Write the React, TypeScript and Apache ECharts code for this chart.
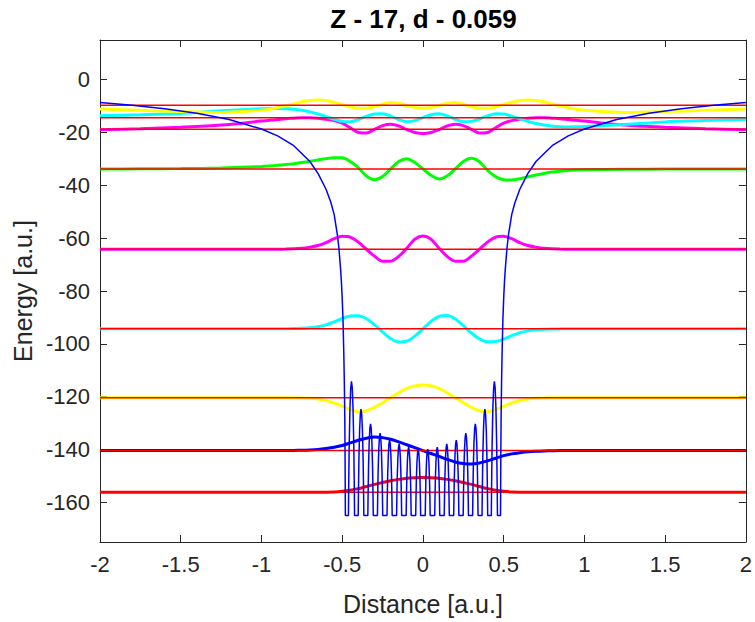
import React, { useEffect, useRef } from "react";
import * as echarts from "echarts";

// ---- axis / labels ----
const TITLE = "Z - 17, d - 0.059";
const X_LABEL = "Distance [a.u.]";
const Y_LABEL = "Energy [a.u.]";
const Y_TICKS = [-160, -140, -120, -100, -80, -60, -40, -20, 0];

// ---- energy levels (red lines) ----
const LEVELS = [-156.2, -140.4, -120.4, -94.3, -64.2, -33.8, -18.8, -14.4, -9.7];
const LEVEL_COLORS = ["#ff0000", "#0000ff", "#ffff00", "#00ffff", "#ff00ff", "#00ff00", "#ff00ff", "#00ffff", "#ffff00"];

// ---- wavefunction sample positions ----
const WX = [-2, -1.75, -1.5, -1.25, -1, -0.95, -0.9, -0.85, -0.8, -0.75, -0.7, -0.65, -0.6, -0.55, -0.5, -0.45, -0.4, -0.35, -0.3, -0.25, -0.2, -0.15, -0.1, -0.05, 0, 0.05, 0.1, 0.15, 0.2, 0.25, 0.3, 0.35, 0.4, 0.45, 0.5, 0.55, 0.6, 0.65, 0.7, 0.75, 0.8, 0.85, 0.9, 0.95, 1, 1.25, 1.5, 1.75, 2];

// ---- wavefunctions (energy + psi) ----
const WAVE1 = [-156.2, -156.2, -156.2, -156.2, -156.2, -156.2, -156.2, -156.2, -156.2, -156.2, -156.2, -156.2, -156.15, -156.05, -155.8, -155.4, -154.8, -154.0, -153.2, -152.5, -151.8, -151.3, -150.9, -150.7, -150.6, -150.7, -150.9, -151.3, -151.8, -152.5, -153.2, -154.0, -154.8, -155.4, -155.8, -156.05, -156.15, -156.2, -156.2, -156.2, -156.2, -156.2, -156.2, -156.2, -156.2, -156.2, -156.2, -156.2, -156.2];
const WAVE2 = [-140.4, -140.4, -140.4, -140.4, -140.4, -140.4, -140.4, -140.4, -140.35, -140.28, -140.15, -139.95, -139.6, -139.15, -138.5, -137.5, -136.5, -135.7, -135.3, -135.5, -136.1, -137.1, -138.2, -139.3, -140.4, -141.5, -142.6, -143.7, -144.7, -145.3, -145.5, -145.1, -144.3, -143.3, -142.3, -141.65, -141.2, -140.85, -140.65, -140.52, -140.45, -140.4, -140.4, -140.4, -140.4, -140.4, -140.4, -140.4, -140.4];
const WAVE3 = [-120.4, -120.4, -120.4, -120.4, -120.4, -120.4, -120.4, -120.4, -120.4, -120.48, -120.6, -120.85, -121.5, -122.4, -123.6, -124.9, -125.7, -125.3, -124.0, -122.3, -120.4, -118.5, -116.9, -115.9, -115.6, -115.9, -116.9, -118.5, -120.4, -122.3, -124.0, -125.3, -125.7, -124.9, -123.6, -122.4, -121.5, -120.85, -120.6, -120.48, -120.4, -120.4, -120.4, -120.4, -120.4, -120.4, -120.4, -120.4, -120.4];
const WAVE4 = [-94.3, -94.3, -94.3, -94.3, -94.3, -94.3, -94.3, -94.27, -94.22, -94.1, -93.9, -93.5, -92.8, -91.7, -90.4, -89.5, -89.4, -90.5, -92.7, -95.5, -98.0, -99.3, -99.0, -97.1, -94.3, -91.5, -89.6, -89.3, -90.6, -93.1, -95.9, -98.1, -99.2, -99.1, -98.2, -96.9, -95.8, -95.1, -94.7, -94.5, -94.38, -94.33, -94.3, -94.3, -94.3, -94.3, -94.3, -94.3, -94.3];
const WAVE5 = [-64.2, -64.2, -64.2, -64.2, -64.2, -64.2, -64.18, -64.14, -64.05, -63.85, -63.4, -62.8, -61.7, -60.2, -59.3, -59.6, -61.5, -64.2, -66.8, -68.7, -68.7, -66.9, -63.8, -60.4, -59.2, -60.4, -63.8, -66.9, -68.7, -68.7, -66.8, -64.2, -61.5, -59.6, -59.3, -60.2, -61.7, -62.8, -63.4, -63.85, -64.05, -64.14, -64.18, -64.2, -64.2, -64.2, -64.2, -64.2, -64.2];
const WAVE6 = [-33.8, -33.76, -33.68, -33.45, -32.9, -32.7, -32.45, -32.15, -31.8, -31.4, -30.9, -30.4, -29.9, -29.6, -29.6, -31.0, -33.3, -36.5, -37.9, -36.7, -33.8, -31.0, -29.9, -31.4, -33.8, -36.2, -37.6, -36.5, -33.8, -31.0, -29.8, -31.1, -34.3, -36.7, -37.9, -38.0, -37.5, -36.8, -36.1, -35.5, -35.0, -34.65, -34.4, -34.25, -34.15, -33.95, -33.85, -33.8, -33.8];
const WAVE7 = [-19.0, -18.55, -18.0, -17.2, -15.7, -15.4, -15.1, -14.8, -14.6, -14.4, -14.4, -14.6, -15.0, -15.5, -16.5, -18.2, -20.0, -20.2, -18.8, -17.4, -16.9, -17.5, -18.9, -20.0, -20.4, -20.0, -18.9, -17.5, -16.9, -17.4, -18.8, -20.2, -20.0, -18.2, -16.5, -15.5, -15.0, -14.6, -14.4, -14.4, -14.6, -14.8, -15.1, -15.4, -15.7, -17.2, -18.0, -18.55, -19.0];
const WAVE8 = [-13.7, -13.3, -12.8, -11.8, -11.05, -10.95, -10.9, -11.0, -11.2, -11.6, -12.2, -13.0, -14.0, -15.0, -15.8, -15.9, -15.1, -13.9, -13.0, -12.9, -13.8, -15.1, -15.9, -15.5, -14.4, -13.3, -12.9, -13.7, -15.0, -15.9, -15.8, -14.9, -13.7, -12.9, -13.0, -13.8, -14.8, -15.8, -16.6, -17.2, -17.6, -17.8, -17.9, -17.85, -17.75, -17.0, -16.0, -15.5, -15.1];
const WAVE9 = [-11.1, -11.6, -12.1, -12.4, -11.6, -11.2, -10.6, -9.9, -9.2, -8.4, -7.9, -7.7, -7.9, -8.6, -9.4, -10.3, -10.8, -10.8, -10.2, -9.3, -8.7, -8.9, -9.8, -10.5, -10.7, -10.5, -9.8, -8.9, -8.7, -9.3, -10.2, -10.8, -10.8, -10.3, -9.4, -8.6, -7.9, -7.7, -7.9, -8.4, -9.2, -9.9, -10.6, -11.2, -11.6, -12.4, -12.1, -11.6, -11.1];
const WAVES = [WAVE1, WAVE2, WAVE3, WAVE4, WAVE5, WAVE6, WAVE7, WAVE8, WAVE9];

// ---- potential: outer tail (distance from centre, value) ----
const OUTER_DIST = [2, 1.8, 1.6, 1.4, 1.2, 1.0, 0.9, 0.8, 0.7, 0.65, 0.6, 0.57, 0.55, 0.53, 0.52, 0.51, 0.505, 0.5, 0.495, 0.49, 0.487, 0.484, 0.482, 0.4805];
const OUTER_V = [-8.7, -9.7, -11.0, -12.7, -15.1, -18.7, -21.3, -25.0, -31.0, -35.5, -41.5, -46.5, -51, -58.7, -64, -71.7, -76.5, -82.7, -91, -104, -114, -128, -145, -165];
// ---- potential: barriers between the 17 wells ----
const WELL_BOTTOM = -165;
const SPIKE_X = [-0.4425, -0.3835, -0.3245, -0.2655, -0.2065, -0.1475, -0.0885, -0.0295, 0.0295, 0.0885, 0.1475, 0.2065, 0.2655, 0.3245, 0.3835, 0.4425];
const SPIKE_TOP = [-114.2, -124.7, -130.3, -133.8, -136.4, -137.9, -139.1, -139.9, -139.9, -139.1, -137.9, -136.4, -133.8, -130.3, -124.7, -114.2];
const SPIKE_HALF = [0.019, 0.0175, 0.0168, 0.0163, 0.016, 0.0157, 0.0155, 0.0153, 0.0153, 0.0155, 0.0157, 0.016, 0.0163, 0.0168, 0.0175, 0.019];
const SPIKE_S = [-1, -0.9, -0.75, -0.5, -0.25, 0, 0.25, 0.5, 0.75, 0.9, 1];
const SPIKE_G = [1, 0.76, 0.48, 0.2, 0.05, 0, 0.05, 0.2, 0.48, 0.76, 1];

const FONT = "'Liberation Sans', Arial, Helvetica, sans-serif";
const INK = "#262626";

function buildPotential(): number[][] {
  const pts: number[][] = [];
  for (let i = 0; i < OUTER_DIST.length; i++) pts.push([-OUTER_DIST[i], OUTER_V[i]]);
  for (let k = 0; k < SPIKE_X.length; k++) {
    for (let j = 0; j < SPIKE_S.length; j++) {
      pts.push([SPIKE_X[k] + SPIKE_S[j] * SPIKE_HALF[k], SPIKE_TOP[k] - (SPIKE_TOP[k] - WELL_BOTTOM) * SPIKE_G[j]]);
    }
  }
  for (let i = OUTER_DIST.length - 1; i >= 0; i--) pts.push([OUTER_DIST[i], OUTER_V[i]]);
  return pts;
}

export default function App() {
  const ref = useRef<HTMLDivElement>(null);
  useEffect(() => {
    if (!ref.current) return;
    const chart = echarts.init(ref.current, null, { renderer: "svg" });
    const series: any[] = [];
    WAVES.forEach((w, i) => {
      series.push({
        type: "line",
        xAxisIndex: 0,
        yAxisIndex: 0,
        data: WX.map((x, j) => [x, w[j]]),
        smooth: 0.3,
        showSymbol: false,
        symbol: "none",
        lineStyle: { color: LEVEL_COLORS[i], width: 3 },
        z: 2,
      });
    });
    LEVELS.forEach((e) => {
      series.push({
        type: "line",
        data: [[-2, e], [2, e]],
        showSymbol: false,
        symbol: "none",
        lineStyle: { color: "#ff0000", width: 1.5 },
        z: 3,
      });
    });
    series.push({
      type: "line",
      data: buildPotential(),
      showSymbol: false,
      symbol: "none",
      lineStyle: { color: "#0000ff", width: 1.5 },
      z: 4,
    });

    const xBase = {
      type: "value",
      min: -2,
      max: 2,
      interval: 0.5,
      splitLine: { show: false },
      axisLine: { show: true, onZero: false, lineStyle: { color: INK, width: 1 } },
      axisTick: { show: true, inside: true, length: 7, lineStyle: { color: INK } },
    };
    const yBase = {
      type: "value",
      min: -175,
      max: 15,
      splitLine: { show: false },
      axisLine: { show: true, onZero: false, lineStyle: { color: INK, width: 1 } },
      axisTick: { show: true, inside: true, length: 7, customValues: Y_TICKS, lineStyle: { color: INK } },
    };

    chart.setOption({
      animation: false,
      backgroundColor: "#ffffff",
      grid: { left: 100, top: 40, width: 647, height: 502, containLabel: false },
      xAxis: [
        {
          ...xBase,
          position: "bottom",
          name: X_LABEL,
          nameLocation: "middle",
          nameGap: 49,
          nameTextStyle: { fontFamily: FONT, fontSize: 25, color: INK },
          axisLabel: { fontFamily: FONT, fontSize: 22, color: INK, margin: 11 },
        },
        { ...xBase, position: "top", axisLabel: { show: false } },
      ],
      yAxis: [
        {
          ...yBase,
          position: "left",
          name: Y_LABEL,
          nameLocation: "middle",
          nameGap: 64,
          nameTextStyle: { fontFamily: FONT, fontSize: 25, color: INK },
          axisLabel: { fontFamily: FONT, fontSize: 22, color: INK, margin: 10, customValues: Y_TICKS },
        },
        { ...yBase, position: "right", axisLabel: { show: false } },
      ],
      graphic: [
        {
          type: "text",
          x: 423.5,
          y: 19,
          style: {
            text: TITLE,
            font: `bold 26px ${FONT}`,
            fill: "#000000",
            align: "center",
            verticalAlign: "middle",
          },
        },
      ],
      series,
    });
    return () => chart.dispose();
  }, []);
  return <div ref={ref} style={{ position: "fixed", left: 0, top: 0, width: 755, height: 622, background: "#fff" }} />;
}
